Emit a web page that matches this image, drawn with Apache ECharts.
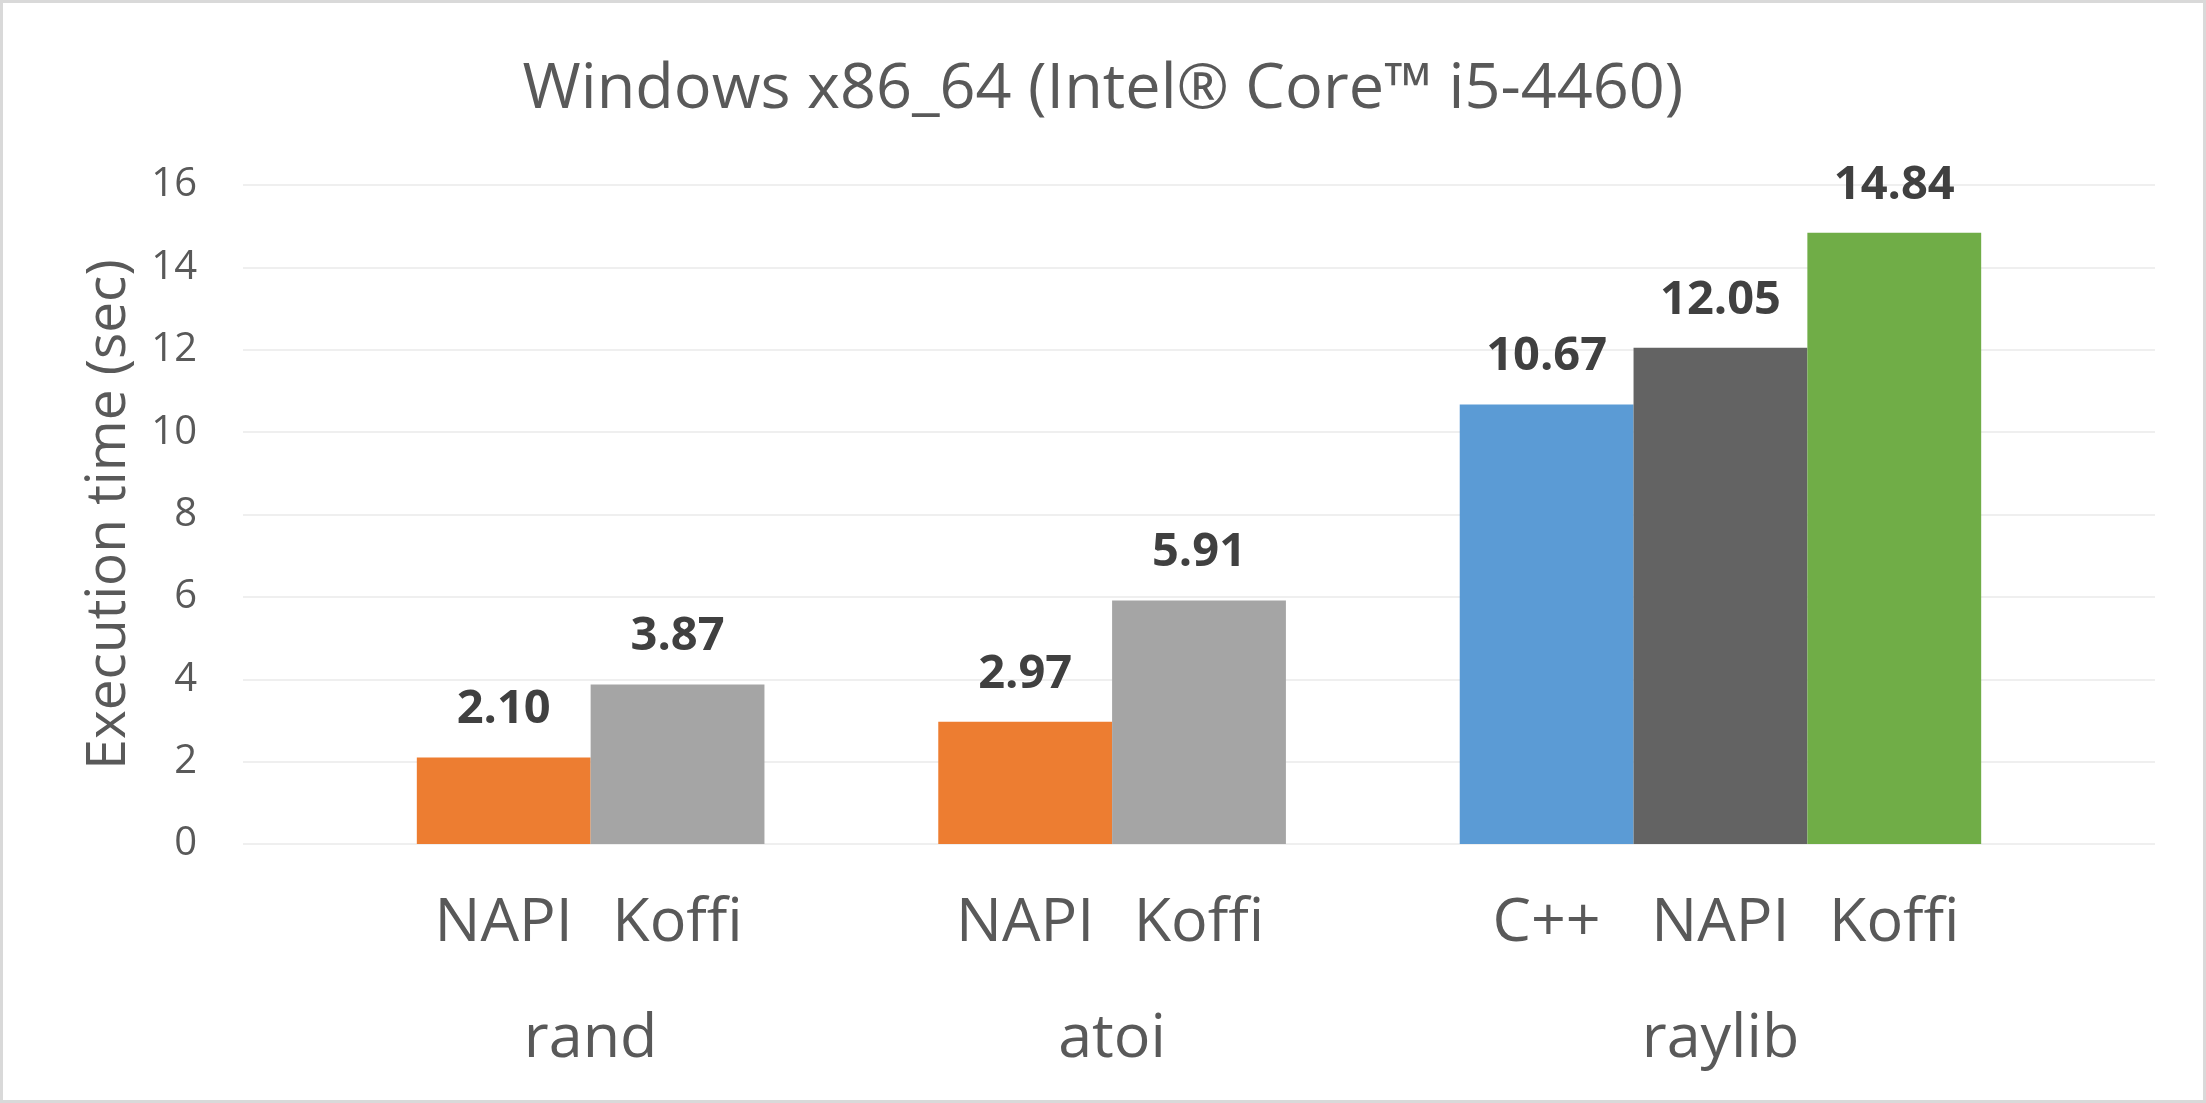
<!DOCTYPE html>
<html>
<head>
<meta charset="utf-8">
<script src="https://cdn.jsdelivr.net/npm/echarts@6/dist/echarts.min.js"></script>
<style>
html,body{margin:0;padding:0;background:#fff;}
#chart{width:2206px;height:1103px;}
</style>
</head>
<body>
<div id="chart"></div>
<script>
// ---- data ----
const chartTitle = 'Windows x86_64 (Intel® Core™ i5-4460)';
const yAxisTitle = 'Execution time (sec)';
const groups = ['rand', 'atoi', 'raylib'];
const randImpls = ['NAPI', 'Koffi'];
const randTimes = [2.10, 3.87];
const atoiImpls = ['NAPI', 'Koffi'];
const atoiTimes = [2.97, 5.91];
const raylibImpls = ['C++', 'NAPI', 'Koffi'];
const raylibTimes = [10.67, 12.05, 14.84];
const yTicks = [0, 2, 4, 6, 8, 10, 12, 14, 16];

// ---- styles ----
const palettes = [
  ['#ED7D31', '#A5A5A5'],
  ['#ED7D31', '#A5A5A5'],
  ['#5B9BD5', '#636363', '#70AD47']
];
const FONT = '"Open Sans", "Noto Sans", sans-serif';

// ---- build category slots ----
const implsByGroup = [randImpls, atoiImpls, raylibImpls];
const timesByGroup = [randTimes, atoiTimes, raylibTimes];
const slotsPerGroup = 3;
const categories = [''];
const values = ['-'];
const colors = [null];
const groupHalfPos = [];
implsByGroup.forEach((impls, g) => {
  const start = categories.length;
  for (let k = 0; k < slotsPerGroup; k++) {
    if (k < impls.length) {
      categories.push(impls[k]);
      values.push(timesByGroup[g][k]);
      colors.push(palettes[g][k]);
    } else {
      categories.push('');
      values.push('-');
      colors.push(null);
    }
  }
  groupHalfPos.push(2 * start + impls.length);
});
categories.push('');
values.push('-');
colors.push(null);

const nHalf = categories.length * 2 + 1;
const groupAxis = [];
for (let i = 0; i < nHalf; i++) {
  const gi = groupHalfPos.indexOf(i);
  groupAxis.push(gi >= 0 ? groups[gi] : '');
}

const chart = echarts.init(document.getElementById('chart'), null, {renderer: 'canvas'});
chart.setOption({
  backgroundColor: '#ffffff',
  animation: false,
  title: {
    text: chartTitle,
    left: 'center',
    top: 54,
    textStyle: {fontFamily: FONT, fontSize: 63, fontWeight: 'normal', color: '#595959'}
  },
  grid: {left: 243, right: 51, top: 185, bottom: 259, containLabel: false},
  xAxis: [
    {
      type: 'category',
      data: categories,
      boundaryGap: true,
      position: 'bottom',
      axisLine: {show: false},
      axisTick: {show: false},
      axisLabel: {interval: 0, margin: 49, fontFamily: FONT, fontSize: 61, color: '#595959'}
    },
    {
      type: 'category',
      data: groupAxis,
      boundaryGap: false,
      position: 'bottom',
      axisLine: {show: false},
      axisTick: {show: false},
      axisLabel: {interval: 0, margin: 165, fontFamily: FONT, fontSize: 61, color: '#595959'}
    }
  ],
  yAxis: {
    type: 'value',
    min: yTicks[0],
    max: yTicks[yTicks.length - 1],
    interval: 2,
    name: yAxisTitle,
    nameLocation: 'middle',
    nameGap: 106,
    nameTextStyle: {fontFamily: FONT, fontSize: 55, color: '#595959'},
    axisLine: {show: false},
    axisTick: {show: false},
    axisLabel: {margin: 46, fontFamily: FONT, fontSize: 40, color: '#595959'},
    splitLine: {lineStyle: {color: '#efefef', width: 2}}
  },
  series: [{
    type: 'bar',
    xAxisIndex: 0,
    data: values,
    barWidth: '100%',
    barCategoryGap: '0%',
    itemStyle: {color: (p) => colors[p.dataIndex] || '#000'},
    label: {
      show: true,
      position: 'top',
      distance: 24,
      fontFamily: FONT,
      fontSize: 47,
      fontWeight: 'bold',
      color: '#404040',
      formatter: (p) => Number(p.value).toFixed(2)
    }
  }],
  graphic: [{
    type: 'rect',
    silent: true,
    shape: {x: 1.5, y: 1.5, width: 2203, height: 1100},
    style: {fill: 'none', stroke: '#d9d9d9', lineWidth: 3},
    z: 100
  }]
});
</script>
</body>
</html>
